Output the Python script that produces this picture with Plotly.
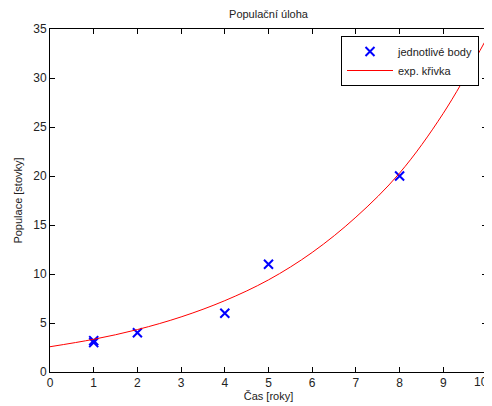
import plotly.graph_objects as go

# data points
pts_x = [1, 1, 2, 4, 5, 8]
pts_y = [3.0, 3.2, 4.0, 6.0, 11.0, 20.0]

# exponential curve
curve_x = [0, 1, 2, 3, 4, 5, 6, 7, 8, 9, 10]
curve_y = [2.58, 3.34, 4.33, 5.62, 7.28, 9.4, 12.2, 15.8, 20.3, 26.4, 34.1]

x_ticks = [0, 1, 2, 3, 4, 5, 6, 7, 8, 9, 10]
y_ticks = [0, 5, 10, 15, 20, 25, 30, 35]

FONT = "Liberation Sans, Arial, sans-serif"

# page body has an 8px margin; size the figure so that the plot area lands at
# page x 50..487, y 29..372
W, H = 484, 398
L, R, T, B = 42, 5, 21, 34

fig = go.Figure()
fig.add_trace(go.Scatter(
    x=pts_x, y=pts_y, mode="markers", name="jednotlivé body",
    marker=dict(symbol="x-thin", size=9, color="blue",
                line=dict(width=2, color="blue")),
))
fig.add_trace(go.Scatter(
    x=curve_x, y=curve_y, mode="lines", name="exp. křivka",
    line=dict(color="red", width=1, shape="spline"),
))

axis_common = dict(
    showgrid=False, zeroline=False, showline=True, linecolor="black",
    linewidth=1, mirror="ticks", ticks="inside", ticklen=5,
    tickcolor="black", automargin=False,
    tickfont=dict(family=FONT, size=12, color="#222"),
)

# last x tick label sits on the page edge (plotly drops it), draw it explicitly
fig.add_annotation(x=x_ticks[-1], y=0, xref="x", yref="y", text=str(x_ticks[-1]),
                   showarrow=False, yanchor="top", xanchor="right", yshift=-1,
                   xshift=3,
                   font=dict(family=FONT, size=12, color="#222"))

fig.update_layout(
    width=W, height=H,
    margin=dict(l=L, r=R, t=T, b=B),
    paper_bgcolor="white", plot_bgcolor="white",
    title=dict(text="Populační úloha", x=(L + (W - R)) / 2 / W, xanchor="center",
               y=1 - 6 / H, yanchor="middle",
               font=dict(family=FONT, size=11, color="#222")),
    xaxis=dict(range=[0, 10], tickvals=x_ticks,
               title=dict(text="Čas [roky]", standoff=1,
                          font=dict(family=FONT, size=11, color="#222")),
               **axis_common),
    yaxis=dict(range=[0, 35], tickvals=y_ticks,
               title=dict(text="Populace [stovky]", standoff=8,
                          font=dict(family=FONT, size=11, color="#222")),
               **axis_common),
    legend=dict(x=(479 - 50) / 437, y=(372 - 36) / 343, xanchor="right", yanchor="top",
                bordercolor="black", borderwidth=1, bgcolor="white",
                font=dict(family=FONT, size=11, color="#222"),
                tracegroupgap=0, itemwidth=46),
    showlegend=True,
)

fig.write_html("out.html")
